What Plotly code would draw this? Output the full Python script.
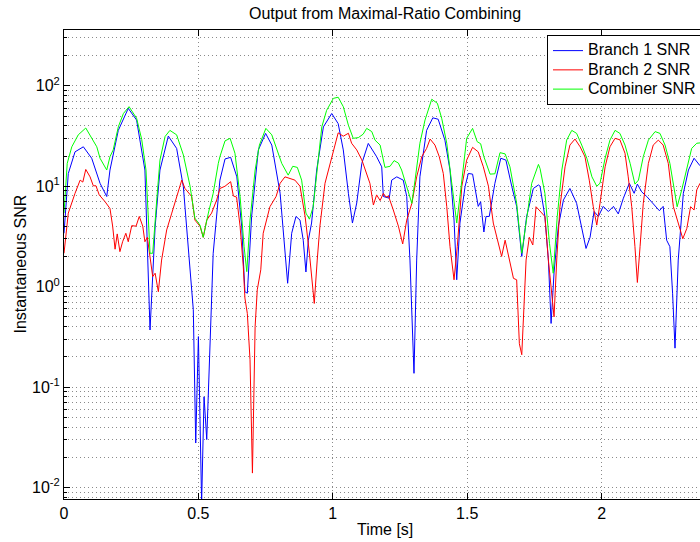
import plotly.graph_objects as go

# ---------------- data ----------------
t_branch1 = [0.000, 0.016, 0.041, 0.072, 0.103, 0.134, 0.159, 0.171, 0.202, 0.239,
             0.270, 0.301, 0.320, 0.339, 0.357, 0.388, 0.419, 0.444, 0.481, 0.490,
             0.500, 0.512, 0.521, 0.531, 0.555, 0.580, 0.599, 0.620, 0.643, 0.661,
             0.673, 0.682, 0.698, 0.723, 0.750, 0.773, 0.804, 0.822, 0.832, 0.847,
             0.863, 0.878, 0.890, 0.900, 0.909, 0.921, 0.940, 0.965, 0.996, 1.020,
             1.039, 1.058, 1.073, 1.089, 1.108, 1.132, 1.163, 1.182, 1.188, 1.210,
             1.219, 1.238, 1.262, 1.275, 1.287, 1.302, 1.312, 1.324, 1.349, 1.372,
             1.392, 1.417, 1.436, 1.451, 1.461, 1.473, 1.492, 1.504, 1.520, 1.541,
             1.550, 1.562, 1.570, 1.582, 1.603, 1.625, 1.644, 1.666, 1.684, 1.703,
             1.721, 1.746, 1.765, 1.771, 1.789, 1.802, 1.812, 1.823, 1.839, 1.858,
             1.882, 1.907, 1.926, 1.942, 1.957, 1.972, 1.988, 2.006, 2.025, 2.044,
             2.062, 2.081, 2.103, 2.121, 2.133, 2.149, 2.168, 2.192, 2.215, 2.229,
             2.242, 2.254, 2.264, 2.273, 2.285, 2.304, 2.323, 2.344, 2.366]
snr_branch1 = [3.4, 13.4, 22, 24.7, 19, 10.7, 7.9, 14.5, 36, 59.6,
               45.6, 14.5, 0.37, 3.95, 14.5, 31.6, 23.8, 9.9, 0.59, 0.0277,
               0.318, 0.007, 0.08, 0.03, 2.15, 11.5, 18.7, 19.4, 12.4, 4.0,
               0.89, 0.86, 5, 23, 33.6, 25.7, 8.5, 2.5, 1.08, 3.4,
               5, 4.6, 2.9, 1.4, 2.9, 4.3, 14.5, 39, 53, 42,
               23, 8.5, 4.3, 6.8, 16.9, 26.7, 19.7, 15.6, 7.9, 7.6,
               11.5, 12.4, 11.5, 7.9, 1.84, 0.137, 1.84, 12.4, 36, 48,
               46.5, 28.8, 14.5, 4.6, 1.17, 4.3, 9.9, 13.4, 13.2, 6.3,
               7.0, 3.5, 5, 5, 10.7, 19, 18.2, 9.9, 6.3, 2.0,
               5, 9.5, 10.3, 10, 5, 1.84, 0.43, 1.37, 4, 7.3,
               9.5, 6.75, 3.7, 2.4, 3.1, 5.6, 5, 6.3, 5.6, 6.3,
               5.3, 7.6, 10.7, 8.5, 10.5, 8.8, 7.9, 6.75, 5.7, 6.3,
               2.9, 2.5, 0.86, 0.244, 1.84, 8.5, 14.5, 19, 16]

t_branch2 = [0.000, 0.016, 0.041, 0.060, 0.070, 0.081, 0.097, 0.109, 0.119, 0.131,
             0.153, 0.171, 0.181, 0.190, 0.198, 0.208, 0.218, 0.230, 0.239, 0.252,
             0.268, 0.280, 0.293, 0.301, 0.310, 0.320, 0.330, 0.339, 0.351, 0.363,
             0.382, 0.401, 0.419, 0.438, 0.450, 0.475, 0.487, 0.506, 0.518, 0.531,
             0.549, 0.568, 0.580, 0.599, 0.620, 0.630, 0.642, 0.655, 0.667, 0.673,
             0.682, 0.692, 0.701, 0.711, 0.719, 0.732, 0.741, 0.766, 0.789, 0.804,
             0.822, 0.841, 0.859, 0.878, 0.897, 0.913, 0.931, 0.942, 0.952, 0.971,
             0.996, 1.008, 1.020, 1.039, 1.058, 1.070, 1.089, 1.108, 1.120, 1.138,
             1.151, 1.163, 1.176, 1.188, 1.198, 1.207, 1.225, 1.244, 1.260, 1.275,
             1.294, 1.312, 1.331, 1.349, 1.362, 1.380, 1.396, 1.411, 1.424, 1.436,
             1.451, 1.463, 1.480, 1.498, 1.520, 1.541, 1.560, 1.579, 1.597, 1.616,
             1.628, 1.641, 1.653, 1.672, 1.684, 1.694, 1.703, 1.711, 1.719, 1.731,
             1.744, 1.756, 1.771, 1.789, 1.802, 1.814, 1.823, 1.833, 1.845, 1.864,
             1.882, 1.901, 1.920, 1.938, 1.954, 1.969, 1.982, 1.994, 2.013, 2.031,
             2.050, 2.068, 2.087, 2.099, 2.112, 2.124, 2.133, 2.143, 2.155, 2.174,
             2.192, 2.211, 2.229, 2.248, 2.267, 2.285, 2.302, 2.317, 2.331, 2.344,
             2.354, 2.366]
snr_branch2 = [2.15, 5.4, 8.5, 11.5, 11.0, 14.7, 12.4, 10.1, 10.1, 8.2,
               7.0, 6.0, 4.0, 2.36, 3.35, 2.23, 2.8, 3.4, 2.8, 4.05,
               4.0, 5.0, 4.0, 2.8, 3.1, 1.84, 1.26, 1.36, 0.89, 1.84,
               3.67, 5.4, 7.9, 11.5, 9.5, 7.9, 4.6, 4.0, 3.1, 4.6,
               5.4, 7.3, 9.5, 10, 11.1, 8.0, 7.8, 4, 1.58, 0.77,
               0.54, 0.187, 0.0139, 0.4, 0.93, 1.47, 3.4, 6.25, 7.9, 10.7,
               12.4, 12.0, 11.5, 10, 5, 2.15, 0.68, 1.84, 4, 10.7,
               19.7, 24.7, 34, 31.5, 33.7, 26.8, 23, 18.3, 14.5, 10.7,
               6.5, 8.2, 7.2, 8.5, 7.8, 8.0, 5.8, 4.0, 2.66, 4.6,
               6.75, 12.4, 19.7, 23.8, 29.5, 25.7, 19.7, 13.4, 6.25, 2.5,
               1.17, 2.5, 10, 18.2, 24.4, 22, 15.6, 10, 4.3, 2.7,
               2.0, 2.9, 2.0, 1.21, 1.17, 0.27, 0.21, 0.59, 1.84, 3.1,
               2.6, 6.25, 5.6, 5, 1.84, 0.86, 0.5, 1.84, 6.25, 15.6,
               25.7, 29.5, 24.7, 19.7, 11.5, 6.25, 4.1, 6.75, 15.6, 24.7,
               30, 29, 21.3, 12.4, 6.25, 2.5, 1.1, 2.5, 6.75, 16.9,
               25.7, 28.8, 25.7, 16.9, 6.25, 4.3, 3.0, 3.8, 6.25, 5.8,
               9.2, 10.7]

t_combiner = [0.000, 0.012, 0.029, 0.053, 0.081, 0.103, 0.122, 0.134, 0.159, 0.171,
              0.183, 0.202, 0.221, 0.242, 0.270, 0.289, 0.305, 0.320, 0.330, 0.345,
              0.357, 0.376, 0.394, 0.419, 0.444, 0.469, 0.487, 0.506, 0.518, 0.537,
              0.555, 0.574, 0.580, 0.599, 0.618, 0.636, 0.655, 0.670, 0.680, 0.692,
              0.711, 0.727, 0.751, 0.773, 0.789, 0.810, 0.834, 0.851, 0.868, 0.884,
              0.900, 0.913, 0.927, 0.942, 0.959, 0.977, 1.002, 1.020, 1.039, 1.058,
              1.076, 1.095, 1.113, 1.126, 1.145, 1.157, 1.176, 1.194, 1.213, 1.228,
              1.244, 1.256, 1.275, 1.294, 1.306, 1.324, 1.343, 1.368, 1.389, 1.405,
              1.424, 1.442, 1.461, 1.476, 1.498, 1.520, 1.537, 1.550, 1.562, 1.585,
              1.603, 1.622, 1.641, 1.659, 1.684, 1.703, 1.721, 1.740, 1.765, 1.771,
              1.789, 1.806, 1.820, 1.835, 1.852, 1.870, 1.889, 1.907, 1.926, 1.945,
              1.964, 1.982, 1.994, 2.013, 2.031, 2.050, 2.068, 2.087, 2.106, 2.124,
              2.137, 2.155, 2.174, 2.199, 2.217, 2.236, 2.254, 2.273, 2.281, 2.298,
              2.317, 2.335, 2.354, 2.366]
snr_combiner = [5.4, 16.9, 24.7, 32.5, 38, 30, 24.7, 19, 14.5, 19.7,
                23, 39, 53, 62, 47.6, 29.3, 14.5, 2.15, 2.15, 7.3,
                18.2, 31.3, 36, 32.5, 20.5, 10, 4.8, 4.1, 3.1, 5.4,
                8.5, 16.9, 19.7, 28.3, 30, 21.3, 7.9, 2.5, 1.41, 4.6,
                14.5, 25.7, 37.7, 32.5, 24.7, 16.9, 12.9, 15.8, 15.4, 11.5,
                5.4, 4.7, 6.25, 15.6, 39, 57, 75, 77, 62, 40.5,
                30, 30.5, 33, 37.7, 35, 28.8, 25.7, 15.4, 15.8, 18,
                17, 14.5, 10, 6.75, 11.5, 26.8, 45.6, 73.5, 67, 47.6,
                26.8, 11.5, 4.3, 9.2, 30, 37.7, 27.8, 26.5, 19.7, 13.2,
                13.3, 21.6, 21, 15.6, 6.75, 2.15, 5, 10.7, 16.5, 15,
                8.5, 2.7, 1.36, 5, 14.5, 28.8, 36, 33.6, 25.7, 19,
                12.4, 10, 10.7, 19, 28.8, 36, 33.6, 25.7, 16.9, 10.5,
                11.5, 19.7, 28.8, 35, 33.6, 25.7, 16.9, 8.5, 6.25, 9.2,
                15.6, 23.8, 26.8, 27]

x_tick_vals = [0, 0.5, 1, 1.5, 2]
x_tick_text = ["0", "0.5", "1", "1.5", "2"]
y_tick_vals = [0.01, 0.1, 1, 10, 100]
y_tick_text = ["10<sup>-2</sup>", "10<sup>-1</sup>", "10<sup>0</sup>",
               "10<sup>1</sup>", "10<sup>2</sup>"]
series_names = ["Branch 1 SNR", "Branch 2 SNR", "Combiner SNR"]

# ---------------- figure ----------------
FONT = "Liberation Sans, Arial, Helvetica, sans-serif"
GRID = "#8a8a8a"
DASH = "1px,3px"


def legend_label(name):
    # legend rows are tighter than the text size in the reference
    return "<span style='font-size:16px'>" + name + "</span>"


fig = go.Figure()
fig.add_trace(go.Scatter(x=t_branch1, y=snr_branch1, mode="lines",
                         name=legend_label(series_names[0]),
                         line=dict(color="rgb(0,0,255)", width=1)))
fig.add_trace(go.Scatter(x=t_branch2, y=snr_branch2, mode="lines",
                         name=legend_label(series_names[1]),
                         line=dict(color="rgb(255,0,0)", width=1)))
fig.add_trace(go.Scatter(x=t_combiner, y=snr_combiner, mode="lines",
                         name=legend_label(series_names[2]),
                         line=dict(color="rgb(0,255,0)", width=1)))

minor_y = [m * 10.0 ** k for k in range(-3, 3) for m in range(2, 10)]

fig.update_layout(
    width=700, height=542,
    margin=dict(l=64, r=0, t=30, b=43, pad=0, autoexpand=False),
    paper_bgcolor="white", plot_bgcolor="white",
    font=dict(family=FONT, size=16, color="black"),
    title=dict(text="Output from Maximal-Ratio Combining", x=385 / 700, xref="container",
               xanchor="center", y=1 - 13 / 542, yref="container", yanchor="middle",
               font=dict(family=FONT, size=16, color="black")),
    xaxis=dict(range=[0, 2.366], tickvals=x_tick_vals, ticktext=x_tick_text,
               ticks="inside", ticklen=6, tickcolor="black", tickwidth=1,
               showline=True, linecolor="black", linewidth=1, mirror="ticks",
               showgrid=True, gridcolor=GRID, griddash=DASH, gridwidth=1,
               zeroline=False, tickfont=dict(size=16), automargin=False),
    yaxis=dict(type="log", range=[-2.115, 2.556], tickvals=y_tick_vals, ticktext=y_tick_text,
               ticks="inside", ticklen=6, tickcolor="black", tickwidth=1,
               showline=True, linecolor="black", linewidth=1, mirror=False,
               showgrid=True, gridcolor=GRID, griddash=DASH, gridwidth=1,
               zeroline=False, tickfont=dict(size=16), automargin=False,
               minor=dict(tickvals=minor_y, ticks="inside", ticklen=3, tickcolor="black",
                          showgrid=True, gridcolor=GRID, griddash=DASH, gridwidth=1)),
    legend=dict(x=(702 - 64) / 636, xanchor="right", y=(499.3 - 35) / 469.3, yanchor="top",
                bgcolor="white", bordercolor="black", borderwidth=1,
                font=dict(family=FONT, size=12.5, color="black"),
                itemwidth=30, tracegroupgap=0),
    showlegend=True,
    annotations=[
        dict(text="Time [s]", xref="paper", yref="paper", x=(385 - 64) / 636, y=0,
             yshift=-30, xanchor="center", yanchor="middle", showarrow=False,
             font=dict(family=FONT, size=16, color="black")),
        dict(text="Instantaneous SNR", xref="paper", yref="paper", x=0, y=0.5,
             xshift=-44, xanchor="center", yanchor="middle", textangle=-90, showarrow=False,
             font=dict(family=FONT, size=16, color="black")),
    ],
)

fig.write_html("out.html", config={"displayModeBar": False},
               post_script="document.body.style.margin='0';document.body.style.overflow='hidden';")
